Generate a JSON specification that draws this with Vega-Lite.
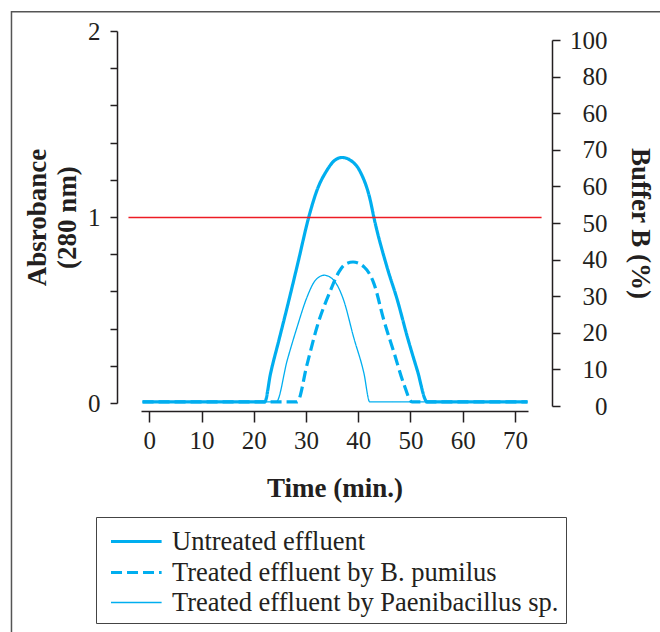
{
  "$schema": "https://vega.github.io/schema/vega-lite/v6.json",
  "autosize": "none",
  "width": 387,
  "height": 372,
  "padding": {"left": 141, "top": 31, "right": 132, "bottom": 229},
  "background": "white",
  "config": {
    "view": {"stroke": null},
    "font": "Liberation Serif",
    "axis": {
      "domainColor": "#231F20", "domainWidth": 1.5, "tickColor": "#231F20", "tickWidth": 1.5,
      "labelColor": "#231F20", "titleColor": "#231F20", "labelFont": "Liberation Serif",
      "titleFont": "Liberation Serif", "labelFontSize": 25, "titleFontSize": 27, "titleFontWeight": "bold", "grid": false,
      "labelOverlap": false
    },
    "legend": {
      "labelFont": "Liberation Serif", "labelFontSize": 26.5, "labelColor": "#231F20",
      "symbolType": "M-0.6,0H2.6", "symbolSize": 1000, "symbolStrokeColor": "#00AEEF",
      "strokeColor": "#444444", "padding": 7, "rowPadding": -7, "labelOffset": 34, "labelLimit": 600
    }
  },
  "datasets": {
    "curves": [
      {"series": "Untreated effluent", "t": -1.3, "abs": 0.006},
      {"series": "Untreated effluent", "t": 22.1, "abs": 0.006},
      {"series": "Untreated effluent", "t": 23.2, "abs": 0.158},
      {"series": "Untreated effluent", "t": 24.8, "abs": 0.337},
      {"series": "Untreated effluent", "t": 26.4, "abs": 0.516},
      {"series": "Untreated effluent", "t": 28.5, "abs": 0.76},
      {"series": "Untreated effluent", "t": 30.5, "abs": 0.997},
      {"series": "Untreated effluent", "t": 32.1, "abs": 1.144},
      {"series": "Untreated effluent", "t": 34.0, "abs": 1.251},
      {"series": "Untreated effluent", "t": 35.3, "abs": 1.30},
      {"series": "Untreated effluent", "t": 36.9, "abs": 1.32},
      {"series": "Untreated effluent", "t": 38.5, "abs": 1.305},
      {"series": "Untreated effluent", "t": 40.4, "abs": 1.242},
      {"series": "Untreated effluent", "t": 42.3, "abs": 1.09},
      {"series": "Untreated effluent", "t": 43.0, "abs": 0.997},
      {"series": "Untreated effluent", "t": 45.5, "abs": 0.731},
      {"series": "Untreated effluent", "t": 47.5, "abs": 0.552},
      {"series": "Untreated effluent", "t": 49.4, "abs": 0.355},
      {"series": "Untreated effluent", "t": 51.3, "abs": 0.176},
      {"series": "Untreated effluent", "t": 53.2, "abs": 0.006},
      {"series": "Untreated effluent", "t": 72.4, "abs": 0.006},
      {"series": "Treated effluent by B. pumilus", "t": -1.3, "abs": 0.006},
      {"series": "Treated effluent by B. pumilus", "t": 28.3, "abs": 0.006},
      {"series": "Treated effluent by B. pumilus", "t": 30.2, "abs": 0.208},
      {"series": "Treated effluent by B. pumilus", "t": 32.1, "abs": 0.409},
      {"series": "Treated effluent by B. pumilus", "t": 34.7, "abs": 0.606},
      {"series": "Treated effluent by B. pumilus", "t": 36.3, "abs": 0.705},
      {"series": "Treated effluent by B. pumilus", "t": 37.5, "abs": 0.746},
      {"series": "Treated effluent by B. pumilus", "t": 39.0, "abs": 0.758},
      {"series": "Treated effluent by B. pumilus", "t": 41.1, "abs": 0.732},
      {"series": "Treated effluent by B. pumilus", "t": 43.0, "abs": 0.642},
      {"series": "Treated effluent by B. pumilus", "t": 44.9, "abs": 0.445},
      {"series": "Treated effluent by B. pumilus", "t": 46.9, "abs": 0.266},
      {"series": "Treated effluent by B. pumilus", "t": 48.7, "abs": 0.104},
      {"series": "Treated effluent by B. pumilus", "t": 50.3, "abs": 0.006},
      {"series": "Treated effluent by B. pumilus", "t": 72.4, "abs": 0.006},
      {"series": "Treated effluent by Paenibacillus sp.", "t": -1.3, "abs": 0.006},
      {"series": "Treated effluent by Paenibacillus sp.", "t": 24.3, "abs": 0.006},
      {"series": "Treated effluent by Paenibacillus sp.", "t": 26.4, "abs": 0.23},
      {"series": "Treated effluent by Paenibacillus sp.", "t": 28.3, "abs": 0.409},
      {"series": "Treated effluent by Paenibacillus sp.", "t": 30.2, "abs": 0.57},
      {"series": "Treated effluent by Paenibacillus sp.", "t": 31.8, "abs": 0.66},
      {"series": "Treated effluent by Paenibacillus sp.", "t": 33.5, "abs": 0.687},
      {"series": "Treated effluent by Paenibacillus sp.", "t": 35.3, "abs": 0.66},
      {"series": "Treated effluent by Paenibacillus sp.", "t": 37.2, "abs": 0.553},
      {"series": "Treated effluent by Paenibacillus sp.", "t": 39.1, "abs": 0.355},
      {"series": "Treated effluent by Paenibacillus sp.", "t": 41.1, "abs": 0.158},
      {"series": "Treated effluent by Paenibacillus sp.", "t": 42.2, "abs": 0.006},
      {"series": "Treated effluent by Paenibacillus sp.", "t": 72.4, "abs": 0.006}
    ],
    "buffer": [
      {"t_start": -4.0, "t_end": 75.1, "buffer": 51.5}
    ]
  },
  "layer": [
    {
      "layer": [
        {
          "data": {"values": [{}]},
          "mark": {"type": "rect", "filled": false, "stroke": "#555555", "strokeWidth": 1.5},
          "encoding": {
            "x": {"datum": -26.4, "type": "quantitative"},
            "x2": {"datum": 100},
            "y": {"datum": 2.104, "type": "quantitative"},
            "y2": {"datum": -1.3}
          }
        },
        {
          "data": {"name": "curves"},
          "mark": {"type": "line", "color": "#00AEEF", "interpolate": "monotone", "strokeCap": "butt", "strokeJoin": "round"},
          "encoding": {
            "x": {
              "field": "t", "type": "quantitative",
              "scale": {"domain": [-1.6, 72.5], "nice": false, "zero": false},
              "axis": {"title": "Time (min.)", "values": [0, 10, 20, 30, 40, 50, 60, 70], "tickCount": 20, "offset": 8, "tickSize": 11, "labelPadding": 6, "titlePadding": 22}
            },
            "y": {
              "field": "abs", "type": "quantitative",
              "scale": {"domain": [0, 2], "nice": false, "zero": false},
              "axis": {
                "title": ["Absrobance", "(280 nm)"], "titleLineHeight": 30, "orient": "left", "offset": 24,
                "values": [0, 0.2, 0.4, 0.6, 0.8, 1, 1.2, 1.4, 1.6, 1.8, 2],
                "tickCount": 30,
                "labelExpr": "datum.value == 0 || datum.value == 1 || datum.value == 2 ? format(datum.value, 'd') : ''",
                "labelOverlap": false,
                "tickSize": 7, "labelPadding": 10, "titlePadding": 6
              }
            },
            "strokeDash": {
              "field": "series", "type": "nominal",
              "scale": {"type": "ordinal", "domain": ["Untreated effluent", "Treated effluent by B. pumilus", "Treated effluent by Paenibacillus sp."], "range": [[1, 0], [11, 5], [1, 0]]},
              "legend": {"title": null, "orient": "none", "legendX": -45, "legendY": 486}
            },
            "strokeWidth": {
              "field": "series", "type": "nominal",
              "scale": {"type": "ordinal", "domain": ["Untreated effluent", "Treated effluent by B. pumilus", "Treated effluent by Paenibacillus sp."], "range": [3.2, 3.2, 1.3]},
              "legend": {"title": null, "orient": "none", "legendX": -45, "legendY": 486}
            }
          }
        }
      ]
    },
    {
      "data": {"name": "buffer"},
      "mark": {"type": "rule", "color": "#ED1C24", "strokeWidth": 1.3},
      "encoding": {
        "x": {"field": "t_start", "type": "quantitative"},
        "x2": {"field": "t_end"},
        "y": {
          "field": "buffer", "type": "quantitative",
          "scale": {"domain": [0, 100], "nice": false, "zero": false, "range": [375, 9]},
          "axis": {
            "title": "Buffer B (%)", "orient": "right", "offset": 24, "titleAngle": 90,
            "values": [0, 10, 20, 30, 40, 50, 60, 70, 80, 90, 100],
            "tickCount": 30,
            "labelExpr": "datum.value == 90 ? '80' : datum.value == 80 ? '60' : format(datum.value, 'd')",
            "tickSize": 8, "labelAlign": "right", "labelPadding": 47, "titlePadding": 18
          }
        }
      }
    }
  ],
  "resolve": {"scale": {"y": "independent"}}
}
